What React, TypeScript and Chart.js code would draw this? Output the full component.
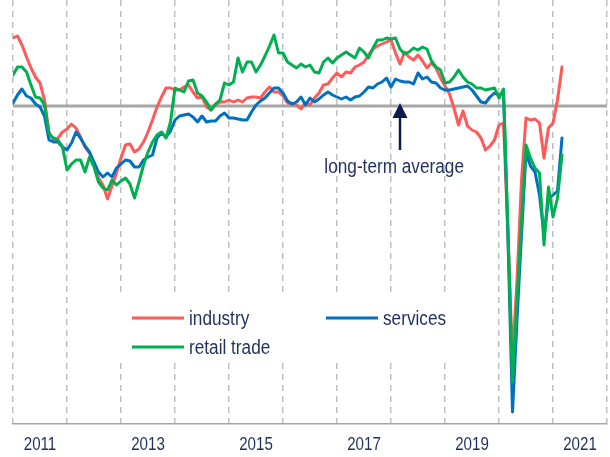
import React, { useEffect, useRef } from "react";
import { Chart, registerables } from "chart.js";

Chart.register(...registerables);

// Monthly observations, Jan 2011 – Mar 2021 (deviation from long-term average, chart units)
const START_YEAR = 2011;
const months: string[] = Array.from({ length: 123 }, (_, i) => {
  const y = START_YEAR + Math.floor(i / 12);
  const m = (i % 12) + 1;
  return `${y}-${m < 10 ? "0" + m : m}`;
});

const industry: number[] = [
  68, 70, 61, 49, 38, 29, 23, 6, -26, -34, -32, -26, -23, -18, -22, -31, -41, -47, -59, -72, -79, -93, -80, -67,
  -52, -39, -38, -46, -43, -36, -26, -14, -1, 9, 18, 18, 16, 16, 19, 21, 14, 8, 9, -1, -4, 1, 4, 4, 6, 4, 6, 4,
  8, 9, 9, 8, 14, 19, 14, 14, 10, 3, 2, 1, -3, 3, 1, 8, 13, 21, 22, 28, 33, 29, 34, 33, 39, 41,
  44, 51, 57, 60, 62, 64, 66, 53, 42, 54, 49, 46, 51, 45, 38, 43, 38, 28, 20, 12, -2, -19, -5, -20, -24, -26, -32,
  -44, -40, -34, -19, -17, -128, -254, -174, -74, -12, -14, -13, -17, -52, -22, -17, 6, 39,
];

const services: number[] = [
  3, 11, 17, 10, 8, 2, -1, -10, -34, -36, -36, -41, -44, -37, -26, -32, -40, -46, -56, -66, -71, -67, -71, -62,
  -58, -54, -55, -61, -61, -54, -51, -49, -32, -27, -31, -25, -14, -10, -9, -8, -11, -16, -10, -16, -15, -15, -10, -7, -12, -12, -13, -14,
  -14, -6, 1, 5, 8, 13, 18, 18, 13, 5, 2, 4, 9, 1, 8, 4, 7, 11, 14, 11, 9, 7, 9, 6, 9, 10,
  14, 19, 18, 22, 24, 28, 19, 27, 25, 24, 24, 22, 33, 27, 29, 24, 23, 18, 16, 16, 17, 18, 19, 20, 16, 10, 4,
  3, 9, 13, 11, 13, -134, -306, -214, -129, -47, -60, -66, -89, -129, -93, -89, -85, -32,
];

const retailTrade: number[] = [
  31, 39, 39, 34, 21, 9, 8, 1, -28, -32, -34, -41, -64, -58, -54, -54, -66, -51, -61, -76, -82, -84, -74, -79,
  -75, -72, -78, -92, -76, -59, -46, -36, -29, -26, -32, -16, 18, 16, 14, 25, 26, 13, 10, 4, -4, 2, 6, 23, 21, 24, 48, 34,
  44, 44, 34, 41, 50, 60, 71, 53, 53, 44, 41, 38, 42, 39, 41, 34, 33, 44, 48, 43, 48, 51, 54, 51, 48, 58,
  54, 48, 58, 66, 66, 68, 67, 68, 57, 52, 54, 58, 56, 59, 57, 45, 39, 36, 23, 24, 29, 36, 29, 24, 22, 18, 18,
  16, 17, 18, 8, 17, -124, -276, -194, -116, -39, -52, -62, -67, -139, -81, -111, -92, -49,
];

const yearLabels: string[] = ["2011", "2013", "2015", "2017", "2019", "2021"];
const yearLabelMonths: number[] = [6, 30, 54, 78, 102, 126];
const legendItems = ["industry", "services", "retail trade"];
const annotationText = "long-term average";
const AVERAGE = 0;
const ARROW_MONTH = 86;
const ARROW_BOTTOM = -44;
const TEXT_MONTH = 84.7;
const TEXT_LEVEL = -61;

const RED = "#FF5A5A";
const BLUE = "#0070C0";
const GREEN = "#00B050";
const NAVY = "#1F2F5F";
const FONT = "'Liberation Sans', Arial, sans-serif";

const toPoints = (arr: number[]) => arr.map((v, i) => ({ x: i, y: v }));

function narrowText(ctx: any, text: string, x: number, y: number, align: string, sx: number) {
  ctx.save();
  ctx.translate(x, y);
  ctx.scale(sx, 1);
  ctx.textAlign = align;
  ctx.fillText(text, 0, 0);
  ctx.restore();
}

const overlayPlugin = {
  id: "overlay",
  beforeDatasetsDraw(chart: any) {
    const { ctx, chartArea, scales } = chart;
    const y0 = scales.y.getPixelForValue(AVERAGE);
    ctx.save();
    ctx.strokeStyle = "#A6A6A6";
    ctx.lineWidth = 3;
    ctx.beginPath();
    ctx.moveTo(chartArea.left, y0);
    ctx.lineTo(chartArea.right, y0);
    ctx.stroke();

    // legend box
    ctx.fillStyle = "#FFFFFF";
    ctx.fillRect(112, 297, 345, 66);
    const items = [
      { label: legendItems[0], color: RED, x: 132, y: 318 },
      { label: legendItems[1], color: BLUE, x: 326, y: 318 },
      { label: legendItems[2], color: GREEN, x: 132, y: 347 },
    ];
    ctx.font = `20px ${FONT}`;
    ctx.textBaseline = "middle";
    items.forEach((it) => {
      ctx.strokeStyle = it.color;
      ctx.lineWidth = 3;
      ctx.beginPath();
      ctx.moveTo(it.x, it.y);
      ctx.lineTo(it.x + 52, it.y);
      ctx.stroke();
      ctx.fillStyle = NAVY;
      narrowText(ctx, it.label, it.x + 57, it.y + 1, "left", 0.86);
    });
    ctx.restore();
  },
  afterDatasetsDraw(chart: any) {
    const { ctx, scales, chartArea } = chart;
    const ax = scales.x.getPixelForValue(ARROW_MONTH);
    const tip = scales.y.getPixelForValue(AVERAGE) - 3;
    const bottom = scales.y.getPixelForValue(ARROW_BOTTOM);
    ctx.save();
    ctx.strokeStyle = "#0D1D4F";
    ctx.fillStyle = "#0D1D4F";
    ctx.lineWidth = 2.5;
    ctx.beginPath();
    ctx.moveTo(ax, bottom);
    ctx.lineTo(ax, tip + 12);
    ctx.stroke();
    ctx.beginPath();
    ctx.moveTo(ax, tip);
    ctx.lineTo(ax - 7.5, tip + 15);
    ctx.lineTo(ax + 7.5, tip + 15);
    ctx.closePath();
    ctx.fill();

    ctx.font = `20px ${FONT}`;
    ctx.fillStyle = NAVY;
    ctx.textBaseline = "middle";
    narrowText(
      ctx,
      annotationText,
      scales.x.getPixelForValue(TEXT_MONTH),
      scales.y.getPixelForValue(TEXT_LEVEL),
      "center",
      0.86
    );

    // year labels under the axis
    ctx.font = `18px ${FONT}`;
    yearLabels.forEach((lab, k) => {
      narrowText(ctx, lab, scales.x.getPixelForValue(yearLabelMonths[k]), chartArea.bottom + 21, "center", 0.84);
    });
    ctx.restore();
  },
};

export default function App() {
  const ref = useRef<HTMLCanvasElement | null>(null);

  useEffect(() => {
    if (!ref.current) return;
    const chart = new Chart(ref.current, {
      type: "line",
      data: {
        labels: months,
        datasets: [
          { label: legendItems[0], data: toPoints(industry) as any, borderColor: RED, order: 3 },
          { label: legendItems[1], data: toPoints(services) as any, borderColor: BLUE, order: 2 },
          { label: legendItems[2], data: toPoints(retailTrade) as any, borderColor: GREEN, order: 1 },
        ],
      },
      options: {
        responsive: false,
        animation: false,
        parsing: false as any,
        normalized: true,
        layout: { padding: { left: 13, right: 3, top: 0, bottom: 0 } },
        elements: {
          line: { borderWidth: 3, tension: 0, borderJoinStyle: "round", borderCapStyle: "round" },
          point: { radius: 0, hoverRadius: 0 },
        },
        plugins: { legend: { display: false }, tooltip: { enabled: false }, title: { display: false } },
        scales: {
          x: {
            type: "linear",
            min: 0,
            max: 132,
            afterBuildTicks: (scale: any) => {
              const t = [];
              for (let v = 0; v <= 132; v += 12) t.push({ value: v });
              scale.ticks = t;
            },
            afterFit: (scale: any) => {
              scale.height = 33;
            },
            grid: {
              drawTicks: false,
              lineWidth: 1.5,
              color: "#BFBFBF",
            },
            border: { display: true, color: "#A6A6A6", width: 1.5, dash: [6, 5] },
            ticks: { display: false },
          },
          y: {
            type: "linear",
            display: false,
            min: -318,
            max: 106,
          },
        },
      },
      plugins: [overlayPlugin],
    });
    return () => chart.destroy();
  }, []);

  return (
    <div style={{ position: "fixed", left: 0, top: 0, width: 610, height: 457, background: "#fff" }}>
      <canvas ref={ref} width={610} height={457} style={{ display: "block" }} />
    </div>
  );
}
